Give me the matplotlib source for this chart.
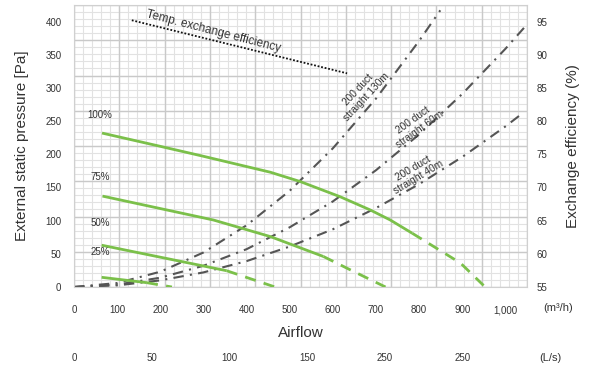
import numpy as np
import matplotlib
matplotlib.use("Agg")
from matplotlib import pyplot as plt

plt.rcParams['font.family'] = ['Liberation Sans', 'DejaVu Sans']

# fan curves (m3/h, Pa) - solid part and dashed continuation
fan_labels = ['100%', '75%', '50%', '25%']
fan_solid_x = [[65, 200, 300, 455, 524, 617, 687, 733, 784],
               [66, 323, 455, 578],
               [64, 207, 354],
               [64, 169]]
fan_solid_y = [[232, 212, 197, 173, 159, 136, 116, 101, 81],
               [137, 101, 76, 46],
               [63, 44, 24.5],
               [14.6, 6.5]]
fan_dash_x = [[784, 896, 953],
              [578, 640, 722],
              [354, 466],
              [169, 227]]
fan_dash_y = [[81, 36, 0],
              [46, 26, 0],
              [24.5, 0],
              [6.5, 0]]
fan_label_y = [259, 166, 96, 52]

# duct resistance curves
duct_names = ['200 duct\nstraight 130m', '200 duct\nstraight 60m', '200 duct\nstraight 40m']
duct_x = [[0, 100, 200, 300, 400, 500, 600, 700, 800, 849],
          [0, 100, 200, 300, 400, 500, 600, 700, 800, 900, 1000, 1045],
          [0, 100, 200, 300, 400, 500, 600, 700, 800, 900, 1000, 1040]]
duct_y = [[0, 6, 23, 52, 93, 145, 209, 284, 371, 417],
          [0, 3.6, 14, 32, 57, 90, 129, 176, 230, 291, 359, 392],
          [0, 2.4, 10, 22, 39, 61, 87, 119, 155, 196, 242, 262]]
duct_label_pos = [(668, 292, 47), (793, 245, 36), (792, 172, 31)]

# temperature exchange efficiency (%)
eff_x = [134, 633]
eff_y = [95.2, 87.2]

x_ticks = [0, 100, 200, 300, 400, 500, 600, 700, 800, 900, 1000]
x_ticklabels = ['0', '100', '200', '300', '400', '500', '600', '700', '800', '900', '1,000']
ls_ticks = [0, 50, 100, 150, 200, 250]
ls_ticklabels = ['0', '50', '100', '150', '250', '250']
p_ticks = [0, 50, 100, 150, 200, 250, 300, 350, 400]
eff_ticks = [55, 60, 65, 70, 75, 80, 85, 90, 95]

green = '#7bc04a'
grey = '#555555'
txt = '#333333'

fig = plt.figure(figsize=(5.9, 3.7), dpi=100)
ax = fig.add_axes([74 / 590, 83 / 370, 453 / 590, 282 / 370])
xmax, ymax = 1050, 425
ax.set_xlim(0, xmax)
ax.set_ylim(0, ymax)

# grid: 10 x 8 major cells, each split in 5
for v in np.linspace(0, xmax, 51):
    ax.axvline(v, color='#e2e2e2', lw=0.8, zorder=0)
for v in np.linspace(0, ymax, 41):
    ax.axhline(v, color='#e2e2e2', lw=0.8, zorder=0)
for v in np.linspace(0, xmax, 11):
    ax.axvline(v, color='#c9c9c9', lw=1.0, zorder=0)
for v in np.linspace(0, ymax, 9):
    ax.axhline(v, color='#c9c9c9', lw=1.0, zorder=0)

for xs, ys in zip(duct_x, duct_y):
    ax.plot(xs, ys, color=grey, lw=1.5, ls=(0, (5, 3, 1, 3)), zorder=2)

for i in range(4):
    ax.plot(fan_solid_x[i], fan_solid_y[i], color=green, lw=2.0, zorder=3,
            solid_capstyle='butt')
    ax.plot(fan_dash_x[i], fan_dash_y[i], color=green, lw=2.0, zorder=3,
            ls=(0, (4, 3)))
    ax.text(60, fan_label_y[i], fan_labels[i], fontsize=7, color=txt,
            ha='center', va='center')

for name, (lx, ly, rot) in zip(duct_names, duct_label_pos):
    ax.text(lx, ly, name, fontsize=7.3, color=txt, ha='center', va='center',
            rotation=rot, rotation_mode='anchor', linespacing=1.15,
            multialignment='center')

ax.set_xticks(x_ticks, labels=x_ticklabels)
ax.set_yticks(p_ticks)
ax.tick_params(length=0, labelsize=7, colors=txt)
ax.tick_params(axis='x', pad=13)
ax.tick_params(axis='y', pad=9)
for s in ax.spines.values():
    s.set_color('#d0d0d0')
ax.set_ylabel('External static pressure [Pa]', fontsize=11, color=txt, labelpad=12)
ax.set_xlabel('Airflow', fontsize=11, color=txt, labelpad=8)
ax.text(1.035, -0.075, '(m³/h)', transform=ax.transAxes, fontsize=8,
        color=txt, ha='left', va='center')

sec = ax.secondary_xaxis(-0.225, functions=(lambda x: x / 3.6, lambda x: x * 3.6))
sec.set_xticks(ls_ticks, labels=ls_ticklabels)
sec.tick_params(length=0, labelsize=7, colors=txt, pad=2)
sec.spines['bottom'].set_visible(False)
ax.text(1.027, -0.252, '(L/s)', transform=ax.transAxes, fontsize=8,
        color=txt, ha='left', va='center')

ax2 = ax.twinx()
ax2.set_ylim(55, 97.5)
ax2.set_yticks(eff_ticks)
ax2.tick_params(length=0, labelsize=7, colors=txt, pad=7)
for s in ax2.spines.values():
    s.set_visible(False)
ax2.plot(eff_x, eff_y, color='#111111', lw=1.3, ls=(0, (1, 1)))
ax2.text(323, 93.5, 'Temp. exchange efficiency', fontsize=8.5, color=txt,
         ha='center', va='center', rotation=-14.5, rotation_mode='anchor')
ax2.set_ylabel('Exchange efficiency (%)', fontsize=11, color=txt, labelpad=13)

fig.savefig('out.png', dpi=100)
